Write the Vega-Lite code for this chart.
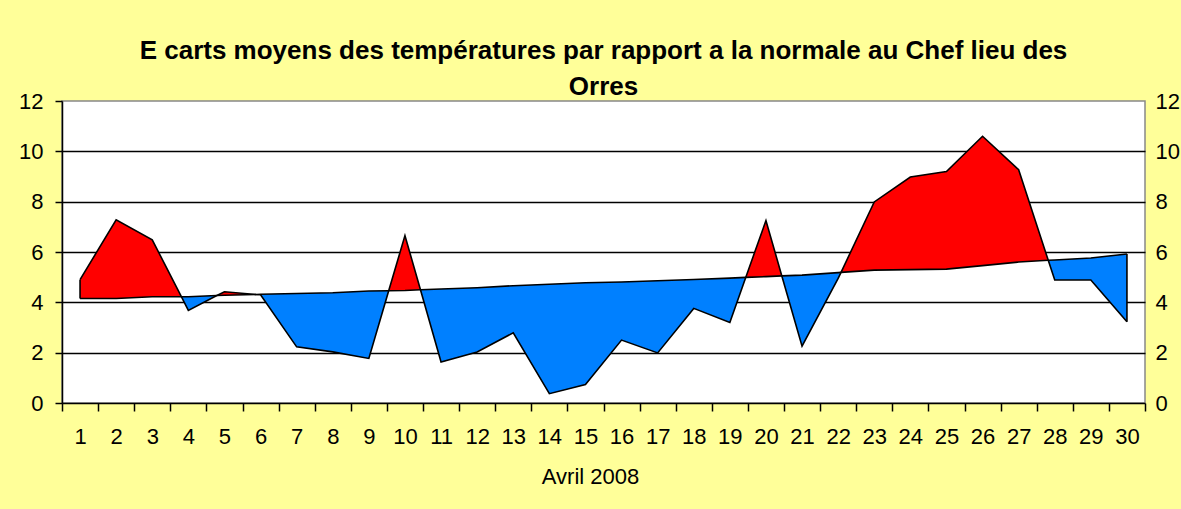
{
  "$schema": "https://vega.github.io/schema/vega-lite/v6.json",
  "width": 1083,
  "height": 302,
  "autosize": "none",
  "padding": {"left": 62, "top": 101, "right": 36, "bottom": 106},
  "background": "#FFFF99",
  "title": {
    "text": ["E carts moyens des températures par rapport a la normale au Chef lieu des", "Orres"],
    "font": "Liberation Sans",
    "fontSize": 26,
    "fontWeight": "bold",
    "color": "black",
    "lineHeight": 36,
    "anchor": "middle",
    "frame": "group",
    "offset": -10
  },
  "data": {
    "values": [
      {"day": 1, "actual": 4.90, "normal": 4.15},
      {"day": 2, "actual": 7.28, "normal": 4.15},
      {"day": 3, "actual": 6.48, "normal": 4.22},
      {"day": 3.81, "actual": 4.22, "normal": 4.22},
      {"day": 4, "actual": 3.68, "normal": 4.22},
      {"day": 4.79, "actual": 4.27, "normal": 4.27},
      {"day": 5, "actual": 4.42, "normal": 4.28},
      {"day": 5.88, "actual": 4.31, "normal": 4.31},
      {"day": 6, "actual": 4.30, "normal": 4.32},
      {"day": 7, "actual": 2.23, "normal": 4.35},
      {"day": 8, "actual": 2.03, "normal": 4.38},
      {"day": 9, "actual": 1.77, "normal": 4.45},
      {"day": 9.55, "actual": 4.46, "normal": 4.46},
      {"day": 10, "actual": 6.65, "normal": 4.47},
      {"day": 10.43, "actual": 4.50, "normal": 4.50},
      {"day": 11, "actual": 1.63, "normal": 4.53},
      {"day": 12, "actual": 2.03, "normal": 4.58},
      {"day": 13, "actual": 2.79, "normal": 4.66},
      {"day": 14, "actual": 0.37, "normal": 4.72},
      {"day": 15, "actual": 0.73, "normal": 4.78},
      {"day": 16, "actual": 2.50, "normal": 4.81},
      {"day": 17, "actual": 1.99, "normal": 4.86},
      {"day": 18, "actual": 3.76, "normal": 4.91},
      {"day": 19, "actual": 3.20, "normal": 4.96},
      {"day": 19.44, "actual": 4.99, "normal": 4.99},
      {"day": 20, "actual": 7.25, "normal": 5.02},
      {"day": 20.44, "actual": 5.05, "normal": 5.05},
      {"day": 21, "actual": 2.26, "normal": 5.08},
      {"day": 22, "actual": 4.95, "normal": 5.18},
      {"day": 22.08, "actual": 5.19, "normal": 5.19},
      {"day": 23, "actual": 7.99, "normal": 5.28},
      {"day": 24, "actual": 8.98, "normal": 5.30},
      {"day": 25, "actual": 9.20, "normal": 5.32},
      {"day": 26, "actual": 10.60, "normal": 5.46},
      {"day": 27, "actual": 9.27, "normal": 5.60},
      {"day": 27.82, "actual": 5.67, "normal": 5.67},
      {"day": 28, "actual": 4.89, "normal": 5.68},
      {"day": 29, "actual": 4.89, "normal": 5.76},
      {"day": 30, "actual": 3.23, "normal": 5.92}
    ]
  },
  "encoding": {
    "x": {
      "field": "day",
      "type": "quantitative",
      "scale": {"domain": [0.5, 30.5], "nice": false, "zero": false},
      "axis": {
        "title": "Avril 2008",
        "titleX": 528,
        "values": [0.5, 1, 1.5, 2, 2.5, 3, 3.5, 4, 4.5, 5, 5.5, 6, 6.5, 7, 7.5, 8, 8.5, 9, 9.5, 10, 10.5, 11, 11.5, 12, 12.5, 13, 13.5, 14, 14.5, 15, 15.5, 16, 16.5, 17, 17.5, 18, 18.5, 19, 19.5, 20, 20.5, 21, 21.5, 22, 22.5, 23, 23.5, 24, 24.5, 25, 25.5, 26, 26.5, 27, 27.5, 28, 28.5, 29, 29.5, 30, 30.5],
        "labelExpr": "datum.value % 1 == 0 ? format(datum.value, 'd') : ''",
        "labelOverlap": false,
        "labelFlush": false,
        "grid": false,
        "tickSize": 8,
        "tickColor": "black",
        "tickWidth": 1.5,
        "tickOpacity": {"condition": {"test": "datum.value % 1 == 0", "value": 0}, "value": 1},
        "domainColor": "black",
        "domainWidth": 1.5,
        "labelPadding": 15,
        "titlePadding": 19
      }
    }
  },
  "layer": [
    {
      "transform": [{"filter": "datum.actual <= datum.normal"}],
      "mark": {"type": "area", "color": "#0080FF", "opacity": 1},
      "encoding": {
        "y": {
          "field": "actual",
          "type": "quantitative",
          "scale": {"domain": [0, 12], "nice": false},
          "axis": {
            "orient": "left",
            "title": null,
            "values": [0, 2, 4, 6, 8, 10, 12],
            "grid": true,
            "gridColor": "black",
            "gridWidth": 1.5,
            "gridOpacity": {"condition": {"test": "datum.value == 0 || datum.value == 12", "value": 0}, "value": 1},
            "tickSize": 7,
            "tickColor": "black",
            "tickWidth": 1.5,
            "domainColor": "black",
            "domainWidth": 1.5,
            "labelPadding": 12
          }
        },
        "y2": {"field": "normal"}
      }
    },
    {
      "transform": [{"filter": "datum.actual >= datum.normal"}],
      "mark": {"type": "area", "color": "#FF0000", "opacity": 1},
      "encoding": {
        "y": {
          "field": "actual",
          "type": "quantitative",
          "scale": {"domain": [0, 12], "nice": false},
          "axis": {
            "orient": "right",
            "title": null,
            "values": [0, 2, 4, 6, 8, 10, 12],
            "grid": false,
            "ticks": false,
            "tickSize": 0,
            "domain": false,
            "labelPadding": 10
          }
        },
        "y2": {"field": "normal"}
      }
    },
    {
      "mark": {"type": "line", "color": "black", "strokeWidth": 1.6},
      "encoding": {
        "y": {"field": "actual", "type": "quantitative", "scale": {"domain": [0, 12], "nice": false}, "axis": null}
      }
    },
    {
      "mark": {"type": "line", "color": "black", "strokeWidth": 1.6},
      "encoding": {
        "y": {"field": "normal", "type": "quantitative", "scale": {"domain": [0, 12], "nice": false}, "axis": null}
      }
    },
    {
      "transform": [{"filter": "datum.day == 1 || datum.day == 30"}],
      "mark": {"type": "rule", "color": "black", "strokeWidth": 1.6},
      "encoding": {
        "y": {"field": "actual", "type": "quantitative", "scale": {"domain": [0, 12], "nice": false}, "axis": null},
        "y2": {"field": "normal"}
      }
    }
  ],
  "resolve": {"axis": {"y": "independent"}},
  "config": {
    "font": "Liberation Sans",
    "axis": {
      "labelFont": "Liberation Sans",
      "labelFontSize": 22,
      "labelColor": "black",
      "titleFont": "Liberation Sans",
      "titleFontSize": 22,
      "titleFontWeight": "normal",
      "titleColor": "black"
    },
    "view": {"fill": "white", "stroke": "#888888", "strokeWidth": 1.5}
  }
}
